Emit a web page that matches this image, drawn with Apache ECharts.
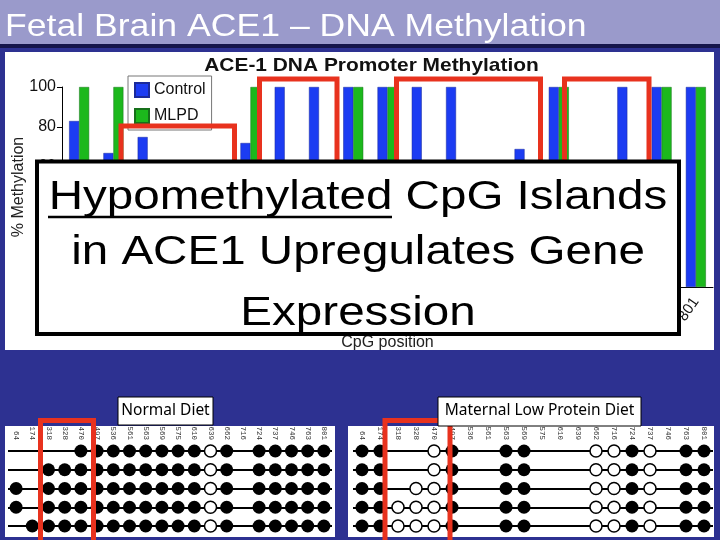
<!DOCTYPE html>
<html>
<head>
<meta charset="utf-8">
<script src="https://cdn.jsdelivr.net/npm/echarts@6/dist/echarts.min.js"></script>
<style>
  html, body { margin: 0; padding: 0; background: #2d3191; }
  #main { width: 720px; height: 540px; }
</style>
</head>
<body>
<div id="main"></div>
<script>
// bar chart: CpG positions and % methylation per group
const cpgBar = ['64', '174', '318', '328', '470', '497', '536', '561', '563', '569',
  '575', '610', '639', '662', '724', '737', '746', '763', '801'];
const controlPct = [83, 67, 75, 50, 40, 72, 100, 100, 100, 100, 100, 100, 0, 69, 100, 63, 100, 100, 100];
const mlpdPct = [100, 100, 0, 0, 0, 100, 0, 0, 100, 100, 0, 0, 0, 0, 100, 0, 0, 100, 100];

// bisulfite clone maps: 1 = methylated, 0 = unmethylated, null = no call
const cpgSites = ['64', '174', '318', '328', '470', '497', '536', '561', '563', '569',
  '575', '610', '639', '662', '716', '724', '737', '746', '763', '801'];
const clones = ['1', '2', '3', '4', '5'];
const N = null;
const normalRows = [
  [N, N, N, N, 1, 1, 1, 1, 1, 1, 1, 1, 0, 1, N, 1, 1, 1, 1, 1],
  [N, N, 1, 1, 1, 1, 1, 1, 1, 1, 1, 1, 0, 1, N, 1, 1, 1, 1, 1],
  [1, N, 1, 1, 1, 1, 1, 1, 1, 1, 1, 1, 0, 1, N, 1, 1, 1, 1, 1],
  [1, N, 1, 1, 1, 1, 1, 1, 1, 1, 1, 1, 0, 1, N, 1, 1, 1, 1, 1],
  [N, 1, 1, 1, 1, 1, 1, 1, 1, 1, 1, 1, 0, 1, N, 1, 1, 1, 1, 1]
];
const lowProteinRows = [
  [1, 1, N, N, 0, 1, N, N, 1, 1, N, N, N, 0, 0, 1, 0, N, 1, 1],
  [1, 1, N, N, 0, 1, N, N, 1, 1, N, N, N, 0, 0, 1, 0, N, 1, 1],
  [1, 1, N, 0, 0, 1, N, N, 1, 1, N, N, N, 0, 0, 1, 0, N, 1, 1],
  [1, 1, 0, 0, 0, 1, N, N, 1, 1, N, N, N, 0, 0, 1, 0, N, 1, 1],
  [1, 1, 0, 0, 0, 1, N, N, 1, 1, N, N, N, 0, 0, 1, 0, N, 1, 1]
];

function marks(rows, state) {
  const out = [];
  rows.forEach((row, r) => {
    row.forEach((v, i) => {
      if (v === state) out.push([cpgSites[i], clones[r]]);
    });
  });
  return out;
}

const font = 'Liberation Sans, Arial, sans-serif';
const red = '#e8321e';

function cloneXAxis(gridIndex) {
  return {
    type: 'category', gridIndex: gridIndex, data: cpgSites, position: 'top',
    axisLine: { show: false }, axisTick: { show: false },
    axisLabel: { rotate: 90, interval: 0, margin: 11, fontSize: 7.5,
      fontFamily: 'Liberation Mono, monospace', color: '#333' }
  };
}
function cloneYAxis(gridIndex) {
  return {
    type: 'category', gridIndex: gridIndex, data: clones, inverse: true, boundaryGap: false,
    axisLine: { show: false }, axisTick: { show: false }, axisLabel: { show: false },
    splitLine: { show: true, interval: 0, lineStyle: { color: '#000', width: 2 } }
  };
}
function dots(xi, rows, state) {
  return {
    type: 'scatter', xAxisIndex: xi, yAxisIndex: xi, symbolSize: state ? 13 : 12,
    itemStyle: state ? { color: '#000', opacity: 1 }
      : { color: '#fff', borderColor: '#000', borderWidth: 1.5, opacity: 1 },
    data: marks(rows, state), z: 3
  };
}
function box(x, y, w, h) {
  return { type: 'rect', shape: { x: x, y: y, width: w, height: h }, z: 50,
    style: { fill: null, stroke: red, lineWidth: 5 } };
}
function txt(x, y, text, size, opts) {
  return Object.assign({ type: 'text', x: x, y: y, z: 110,
    style: Object.assign({ text: text, fontSize: size, fontFamily: font, fill: '#000',
      align: 'center', textAlign: 'center', verticalAlign: 'middle', textVerticalAlign: 'middle' }, opts && opts.style)
  }, opts && opts.el);
}

const option = {
  backgroundColor: '#2d3191',
  animation: false,
  textStyle: { fontFamily: font },
  grid: [
    { left: 62, top: 87, width: 651, height: 200, containLabel: false, outerBoundsMode: 'none' },
    { left: 8, top: 451, width: 324, height: 75, containLabel: false, outerBoundsMode: 'none' },
    { left: 353, top: 451, width: 360, height: 75, containLabel: false, outerBoundsMode: 'none' }
  ],
  legend: {
    data: ['Control', 'MLPD'], orient: 'vertical', left: 128, top: 76,
    padding: [6, 6, 6, 6], itemWidth: 14, itemHeight: 14, itemGap: 10, icon: 'rect',
    borderColor: '#777', borderWidth: 1, backgroundColor: '#fff',
    textStyle: { fontSize: 16, color: '#111' }
  },
  xAxis: [
    {
      type: 'category', gridIndex: 0, data: cpgBar,
      axisLine: { lineStyle: { color: '#000', width: 1 } },
      axisTick: { alignWithLabel: true, length: 5, lineStyle: { color: '#000' } },
      axisLabel: { rotate: 55, interval: 0, fontSize: 15, color: '#111', margin: 12 },
      name: 'CpG position', nameLocation: 'middle', nameGap: 48, nameMoveOverlap: false,
      nameTextStyle: { fontSize: 16, color: '#222' }
    },
    cloneXAxis(1),
    cloneXAxis(2)
  ],
  yAxis: [
    {
      type: 'value', gridIndex: 0, min: 0, max: 100, interval: 20,
      axisLine: { show: true, lineStyle: { color: '#000' } },
      axisTick: { show: true, length: 5, lineStyle: { color: '#000' } },
      axisLabel: { fontSize: 16, color: '#111', margin: 6 },
      splitLine: { show: false },
      name: '% Methylation', nameLocation: 'middle', nameGap: 35, nameMoveOverlap: false,
      nameTextStyle: { fontSize: 16, color: '#222' }
    },
    cloneYAxis(1),
    cloneYAxis(2)
  ],
  series: [
    { name: 'Control', type: 'bar', xAxisIndex: 0, yAxisIndex: 0, barWidth: 10, barGap: '0%',
      itemStyle: { color: '#1c3cf2', borderColor: '#1a2a9a', borderWidth: 0.5 }, data: controlPct },
    { name: 'MLPD', type: 'bar', xAxisIndex: 0, yAxisIndex: 0, barWidth: 10,
      itemStyle: { color: '#1cb81c', borderColor: '#16701a', borderWidth: 0.5 }, data: mlpdPct },
    dots(1, normalRows, 1), dots(1, normalRows, 0),
    dots(2, lowProteinRows, 1), dots(2, lowProteinRows, 0)
  ],
  graphic: [
    // slide furniture
    { type: 'rect', z: -10, shape: { x: 0, y: 0, width: 720, height: 44 }, style: { fill: '#9a9acb' } },
    { type: 'rect', z: -10, shape: { x: 0, y: 44, width: 720, height: 4 }, style: { fill: '#15154a' } },
    { type: 'rect', z: -10, shape: { x: 5, y: 52, width: 709, height: 298 }, style: { fill: '#fff' } },
    { type: 'rect', z: -10, shape: { x: 5, y: 426, width: 330, height: 111 }, style: { fill: '#fff' } },
    { type: 'rect', z: -10, shape: { x: 348, y: 426, width: 366, height: 111 }, style: { fill: '#fff' } },
    txt(5, 27, 'Fetal Brain ACE1 \u2013 DNA Methylation', 31.5,
      { el: { scaleX: 1.13, z: 5 }, style: { fill: '#fff', align: 'left', textAlign: 'left' } }),
    txt(371.5, 66, 'ACE-1 DNA Promoter Methylation', 18.5,
      { el: { scaleX: 1.13, z: 5 }, style: { fontWeight: 'bold', fill: '#111' } }),
    // highlight boxes
    box(121, 126, 113.5, 180),
    box(259.5, 79, 77.5, 220),
    box(396.5, 79, 144, 220),
    box(564.5, 79, 84.5, 220),
    box(40.5, 420.5, 53, 130),
    box(385, 420.5, 65, 130),
    // diet labels
    { type: 'rect', z: 60, shape: { x: 118, y: 397, width: 95, height: 28 },
      style: { fill: '#fff', stroke: '#000', lineWidth: 1 } },
    txt(165.5, 411, 'Normal Diet', 15.5, { style: { fontFamily: 'Noto Sans, sans-serif' } }),
    { type: 'rect', z: 60, shape: { x: 438, y: 397, width: 203, height: 29 },
      style: { fill: '#fff', stroke: '#000', lineWidth: 1 } },
    txt(539.5, 411, 'Maternal Low Protein Diet', 15.5, { style: { fontFamily: 'Noto Sans, sans-serif' } }),
    // overlay statement
    { type: 'rect', z: 100, shape: { x: 37, y: 161.5, width: 642, height: 172.5 },
      style: { fill: '#fff', stroke: '#000', lineWidth: 4 } },
    txt(358, 198, 'Hypomethylated CpG Islands', 41, { el: { scaleX: 1.16 } }),
    txt(358, 253, 'in ACE1 Upregulates Gene', 41, { el: { scaleX: 1.16 } }),
    txt(358, 314, 'Expression', 41, { el: { scaleX: 1.16 } }),
    { type: 'line', z: 110, shape: { x1: 48, y1: 217, x2: 392, y2: 217 },
      style: { stroke: '#000', lineWidth: 2.5 } }
  ]
};

const chart = echarts.init(document.getElementById('main'));
chart.setOption(option);
</script>
</body>
</html>
